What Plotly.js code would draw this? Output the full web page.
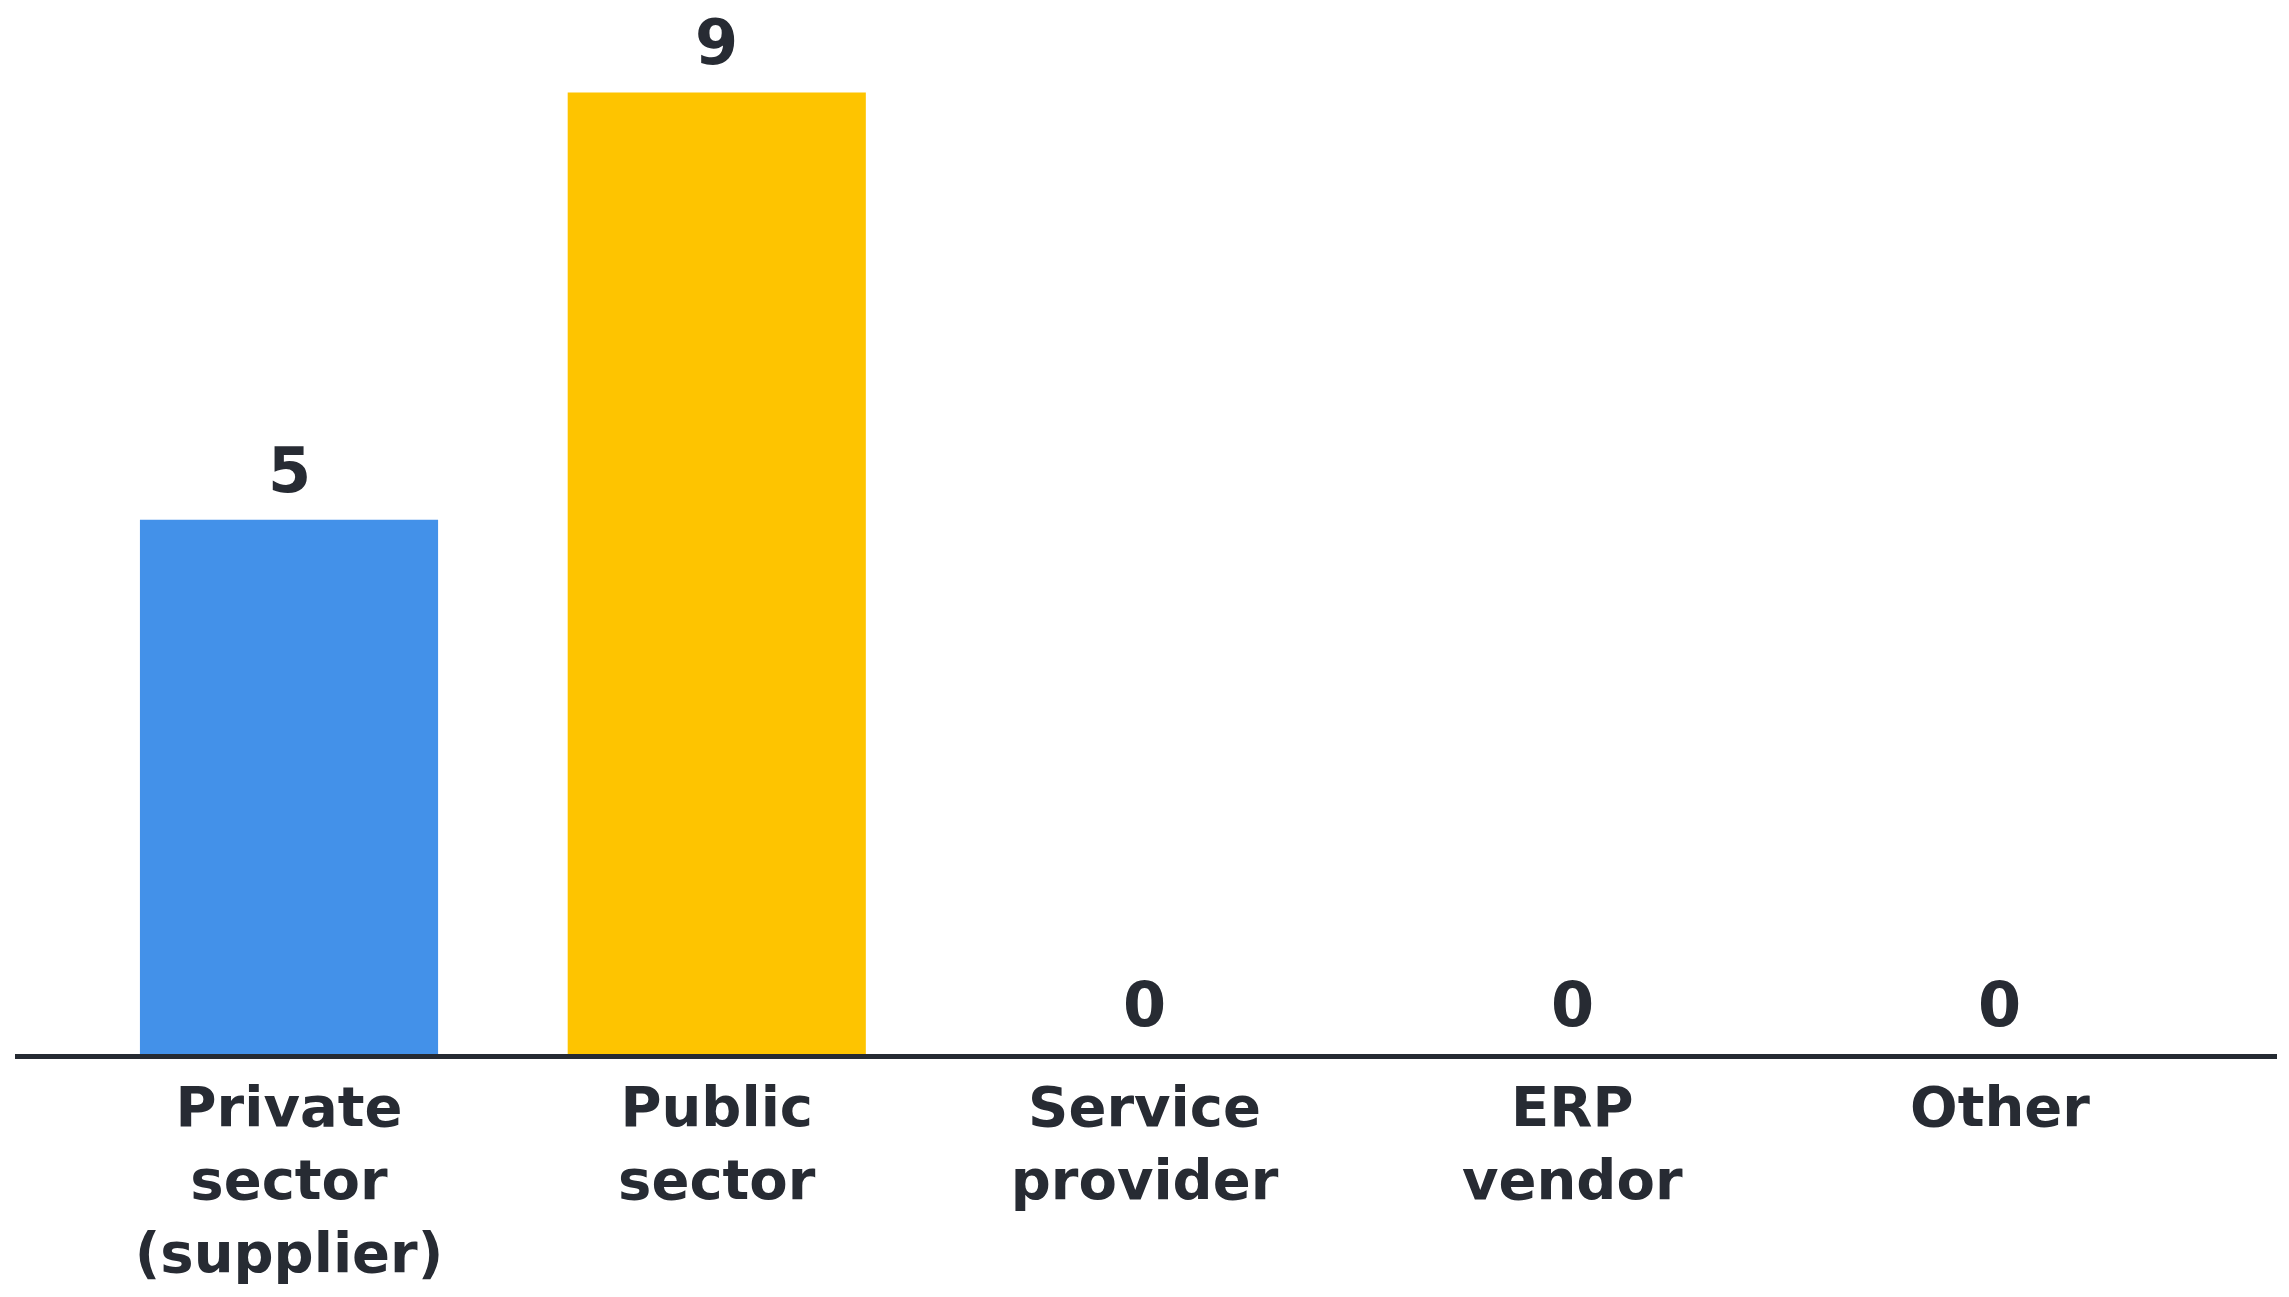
<!DOCTYPE html>
<html>
<head>
<meta charset="utf-8">
<script src="https://cdn.plot.ly/plotly-3.0.1.min.js"></script>
<style>html,body{margin:0;padding:0;background:#fff;}#chart{width:2289px;height:1297px;}</style>
</head>
<body>
<div id="chart"></div>
<script>
const categories = ["Private<br>sector<br>(supplier)", "Public<br>sector", "Service<br>provider", "ERP<br>vendor", "Other"];
const values = [5, 9, 0, 0, 0];
const barColors = ["#4391E9", "#FEC400", "#4391E9", "#4391E9", "#4391E9"];
const textColor = "#272b33";
const fontFamily = "'DejaVu Sans', sans-serif";

const trace = {
  type: "bar",
  x: categories,
  y: values,
  marker: {color: barColors},
  hoverinfo: "none"
};

const annotations = categories.map((c, i) => ({
  x: c, y: values[i], xref: "x", yref: "y",
  text: String(values[i]),
  showarrow: false, yanchor: "bottom", yshift: 11,
  font: {family: fontFamily, size: 62, color: textColor, weight: 700}
}));

const layout = {
  width: 2289, height: 1297,
  margin: {l: 15, r: 12, t: 39, b: 243},
  paper_bgcolor: "#ffffff", plot_bgcolor: "#ffffff",
  showlegend: false,
  bargap: 0.303,
  xaxis: {
    type: "category",
    range: [-0.6406, 4.6476],
    showline: true, linecolor: "#252a32", linewidth: 5,
    showgrid: false, zeroline: false, ticks: "",
    tickfont: {family: fontFamily, size: 56, color: textColor, weight: 700},
    fixedrange: true
  },
  yaxis: {
    range: [0, 9.5],
    showgrid: false, zeroline: false, showticklabels: false, showline: false, ticks: "",
    fixedrange: true
  },
  annotations: annotations
};

Plotly.newPlot("chart", [trace], layout, {displayModeBar: false, staticPlot: true});
</script>
</body>
</html>
